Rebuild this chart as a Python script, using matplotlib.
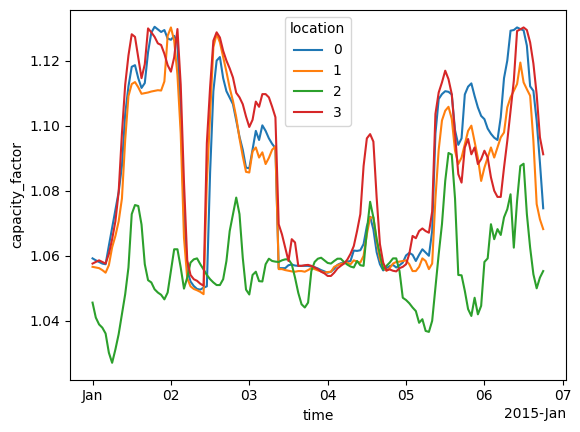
import numpy as np
import pandas as pd
import matplotlib
matplotlib.use("Agg")
import matplotlib.pyplot as plt
import matplotlib.dates as mdates

# hourly capacity factor per location
time = pd.date_range("2015-01-01", periods=139, freq="h")
locations = [0, 1, 2, 3]

loc0 = [
    1.0592, 1.0586, 1.0581, 1.0576, 1.0574, 1.0631, 1.0686, 1.0741, 1.0796, 1.0876,
    1.1036, 1.1121, 1.1181, 1.1186, 1.1146, 1.1116, 1.1131, 1.1226, 1.1286, 1.1304,
    1.1296, 1.1288, 1.1294, 1.1268, 1.1264, 1.1276, 1.1256, 1.1026, 1.0726, 1.0556,
    1.0521, 1.0507, 1.0498, 1.0496, 1.0502, 1.0506, 1.0856, 1.1106, 1.1200, 1.1211,
    1.1146, 1.1106, 1.1086, 1.1066, 1.1016, 1.0966, 1.0926, 1.0871, 1.0869, 1.0926,
    1.0984, 1.0956, 1.1001, 1.0984, 1.0961, 1.0944, 1.0931, 1.0562, 1.0562, 1.0562,
    1.0571, 1.0573, 1.0570, 1.0569, 1.0569, 1.0569, 1.0569, 1.0567, 1.0565, 1.0561,
    1.0556, 1.0552, 1.0548, 1.0551, 1.0560, 1.0572, 1.0577, 1.0579, 1.0582, 1.0584,
    1.0616, 1.0615, 1.0617, 1.0636, 1.0691, 1.0720, 1.0681, 1.0611, 1.0574, 1.0555,
    1.0562, 1.0568, 1.0572, 1.0564, 1.0571, 1.0579, 1.0601, 1.0609, 1.0603, 1.0584,
    1.0603, 1.0620, 1.0610, 1.0600, 1.0676, 1.0976, 1.1082, 1.1097, 1.1106, 1.1104,
    1.1096, 1.0986, 1.0941, 1.0961, 1.1096, 1.1120, 1.1130, 1.1091, 1.1056, 1.1030,
    1.1020, 1.0991, 1.0975, 1.0963, 1.0956, 1.1026, 1.1146, 1.1200, 1.1292, 1.1294,
    1.1302, 1.1297, 1.1293, 1.1246, 1.1121, 1.1107, 1.1015, 1.0886, 1.0746,
]

loc1 = [
    1.0566, 1.0564, 1.0562, 1.0556, 1.0548, 1.0571, 1.0626, 1.0661, 1.0706, 1.0776,
    1.0956, 1.1091, 1.1128, 1.1134, 1.1118, 1.1098, 1.1100, 1.1102, 1.1105, 1.1107,
    1.1109, 1.1108, 1.1136, 1.1276, 1.1302, 1.1261, 1.1156, 1.0976, 1.0656, 1.0531,
    1.0506, 1.0498, 1.0494, 1.0489, 1.0482, 1.0826, 1.1036, 1.1241, 1.1282, 1.1256,
    1.1211, 1.1166, 1.1116, 1.1076, 1.1026, 1.0961, 1.0906, 1.0858, 1.0856, 1.0921,
    1.0933, 1.0902, 1.0918, 1.0882, 1.0901, 1.0926, 1.0936, 1.0559, 1.0559, 1.0556,
    1.0554, 1.0552, 1.0551, 1.0553, 1.0553, 1.0551, 1.0556, 1.0562, 1.0559, 1.0555,
    1.0552, 1.0548, 1.0550, 1.0551, 1.0566, 1.0571, 1.0575, 1.0577, 1.0579, 1.0574,
    1.0586, 1.0582, 1.0579, 1.0600, 1.0666, 1.0718, 1.0718, 1.0646, 1.0589, 1.0564,
    1.0554, 1.0562, 1.0576, 1.0581, 1.0582, 1.0584, 1.0586, 1.0574, 1.0553, 1.0553,
    1.0566, 1.0592, 1.0584, 1.0559, 1.0576, 1.0776, 1.0926, 1.1016, 1.1046, 1.1058,
    1.1021, 1.0923, 1.0882, 1.0902, 1.0943, 1.0984, 1.1000, 1.0951, 1.0901, 1.0830,
    1.0871, 1.0902, 1.0933, 1.0902, 1.0933, 1.0964, 1.0979, 1.1056, 1.1087, 1.1107,
    1.1128, 1.1194, 1.1133, 1.1112, 1.1092, 1.0953, 1.0759, 1.0712, 1.0682,
]

loc2 = [
    1.0456, 1.0410, 1.0389, 1.0379, 1.0361, 1.0302, 1.0271, 1.0312, 1.0359, 1.0420,
    1.0482, 1.0564, 1.0728, 1.0756, 1.0753, 1.0696, 1.0574, 1.0525, 1.0518, 1.0497,
    1.0487, 1.0480, 1.0466, 1.0487, 1.0553, 1.0620, 1.0620, 1.0564, 1.0499, 1.0533,
    1.0579, 1.0589, 1.0592, 1.0574, 1.0558, 1.0541, 1.0528, 1.0518, 1.0510, 1.0510,
    1.0528, 1.0584, 1.0676, 1.0728, 1.0779, 1.0728, 1.0594, 1.0496, 1.0481, 1.0541,
    1.0551, 1.0522, 1.0521, 1.0574, 1.0591, 1.0584, 1.0582, 1.0581, 1.0586, 1.0589,
    1.0589, 1.0574, 1.0533, 1.0486, 1.0451, 1.0441, 1.0456, 1.0553, 1.0581, 1.0591,
    1.0594, 1.0586, 1.0578, 1.0576, 1.0584, 1.0591, 1.0591, 1.0581, 1.0573, 1.0567,
    1.0564, 1.0584, 1.0571, 1.0569, 1.0676, 1.0766, 1.0718, 1.0651, 1.0605, 1.0558,
    1.0569, 1.0579, 1.0592, 1.0592, 1.0553, 1.0471, 1.0464, 1.0454, 1.0441, 1.0430,
    1.0394, 1.0405, 1.0369, 1.0366, 1.0400, 1.0502, 1.0605, 1.0697, 1.0830, 1.0916,
    1.0911, 1.0776, 1.0541, 1.0540, 1.0492, 1.0436, 1.0415, 1.0471, 1.0420, 1.0446,
    1.0581, 1.0592, 1.0697, 1.0651, 1.0682, 1.0664, 1.0718, 1.0743, 1.0789, 1.0625,
    1.0769, 1.0876, 1.0883, 1.0728, 1.0625, 1.0543, 1.0500, 1.0533, 1.0553,
]

loc3 = [
    1.0576, 1.0581, 1.0586, 1.0581, 1.0576, 1.0606, 1.0651, 1.0706, 1.0796, 1.0976,
    1.1126, 1.1216, 1.1281, 1.1273, 1.1210, 1.1146, 1.1189, 1.1299, 1.1287, 1.1273,
    1.1253, 1.1248, 1.1221, 1.1186, 1.1166, 1.1210, 1.1297, 1.1126, 1.0826, 1.0586,
    1.0541, 1.0528, 1.0523, 1.0514, 1.0508, 1.0946, 1.1118, 1.1261, 1.1287, 1.1271,
    1.1230, 1.1200, 1.1176, 1.1148, 1.1101, 1.1087, 1.1066, 1.1028, 1.0996, 1.1018,
    1.1074, 1.1058, 1.1097, 1.1097, 1.1087, 1.1058, 1.1026, 1.0697, 1.0666, 1.0625,
    1.0584, 1.0651, 1.0641, 1.0569, 1.0569, 1.0571, 1.0572, 1.0569, 1.0564, 1.0559,
    1.0551, 1.0546, 1.0538, 1.0538, 1.0548, 1.0561, 1.0569, 1.0576, 1.0588, 1.0606,
    1.0630, 1.0676, 1.0728, 1.0876, 1.0961, 1.0974, 1.0951, 1.0779, 1.0636, 1.0579,
    1.0555, 1.0558, 1.0554, 1.0552, 1.0562, 1.0566, 1.0574, 1.0606, 1.0661, 1.0654,
    1.0676, 1.0684, 1.0676, 1.0671, 1.0736, 1.1036, 1.1102, 1.1133, 1.1169, 1.1143,
    1.1097, 1.0974, 1.0851, 1.0825, 1.0933, 1.0959, 1.0912, 1.0933, 1.0882, 1.0897,
    1.0923, 1.0902, 1.0841, 1.0800, 1.0781, 1.0781, 1.0871, 1.0953, 1.1046, 1.1138,
    1.1291, 1.1296, 1.1302, 1.1294, 1.1256, 1.1191, 1.1096, 1.0964, 1.0912,
]

series = [loc0, loc1, loc2, loc3]

fig = plt.figure(figsize=(5.8, 4.32), dpi=100)
ax = fig.add_axes([0.1207, 0.1213, 0.8547, 0.8556])

for loc, vals in zip(locations, series):
    ax.plot(time, np.array(vals), label=str(loc))

locator = mdates.AutoDateLocator()
ax.xaxis.set_major_locator(locator)
ax.xaxis.set_major_formatter(mdates.ConciseDateFormatter(locator))

ax.set_xlabel("time")
ax.set_ylabel("capacity_factor")
ax.legend(title="location", loc="upper center")

fig.savefig("out.png", dpi=100)
